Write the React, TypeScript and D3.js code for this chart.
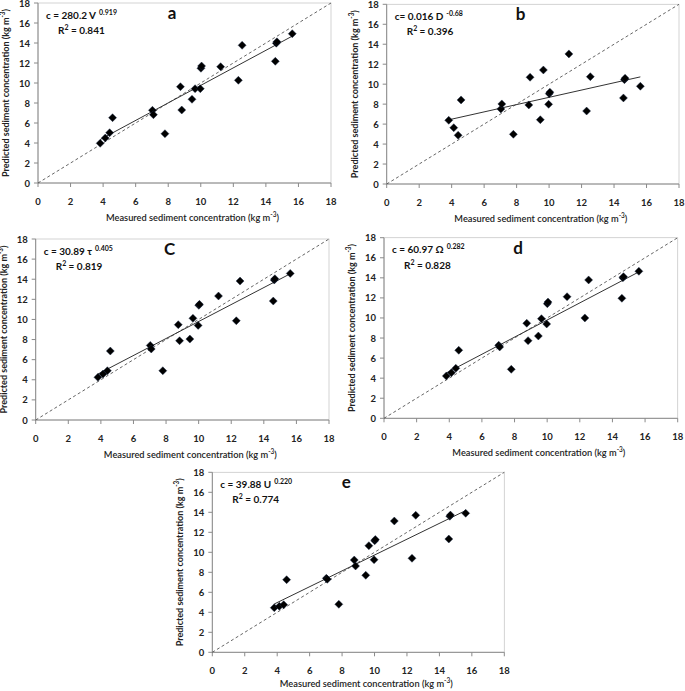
import React from "react";
import * as d3 from "d3";

// Measured sediment concentration (shared x values, kg m-3)
const MEASURED = [3.82, 4.13, 4.4, 4.58, 7.03, 7.09, 7.8, 8.75, 8.83, 9.46, 9.65, 9.97, 10.01, 10.05, 11.22, 12.31, 12.54, 14.58, 14.64, 14.68, 15.62];

// Predicted sediment concentration per model
const PRED_A = [3.97, 4.5, 5.03, 6.53, 7.27, 6.83, 4.93, 9.63, 7.3, 8.37, 9.43, 9.43, 11.47, 11.7, 11.63, 10.27, 13.77, 12.17, 13.98, 14.12, 14.93];
const PRED_B = [6.38, 5.64, 4.88, 8.42, 7.52, 8.02, 4.98, 7.92, 10.69, 6.44, 11.42, 7.98, 9.05, 9.2, 13.03, 7.31, 10.75, 8.62, 10.45, 10.6, 9.79];
const PRED_C = [4.24, 4.57, 4.9, 6.86, 7.42, 7.06, 4.9, 9.48, 7.88, 8.05, 10.11, 9.41, 11.4, 11.5, 12.33, 9.87, 13.82, 11.83, 13.92, 14.05, 14.58];
const PRED_D = [4.22, 4.55, 4.98, 6.78, 7.28, 7.11, 4.88, 9.47, 7.74, 8.2, 9.93, 9.4, 11.42, 11.58, 12.12, 10.0, 13.79, 11.96, 14.0, 14.12, 14.65];
const PRED_E = [4.46, 4.6, 4.76, 7.26, 7.4, 7.3, 4.8, 9.23, 8.63, 7.7, 10.66, 9.26, 11.15, 11.28, 13.13, 9.4, 13.7, 11.33, 13.6, 13.72, 13.9];

const TICKS = [0, 2, 4, 6, 8, 10, 12, 14, 16, 18];
const LETTERS = ["a", "b", "C", "d", "e"];
const EQ_LEFT = ["c = 280.2 V", "c= 0.016 D", "c = 30.89 \u03c4", "c = 60.97 \u03a9", "c = 39.88 U"];
const EQ_EXP = ["0.919", "-0.68", "0.405", "0.282", "0.220"];
const R2 = ["0.841", "0.396", "0.819", "0.828", "0.774"];

const FONT = "Lato, 'Open Sans', sans-serif";

type Geo = { x0: number; x1: number; yTop: number; yBot: number; titleDy: number };

function linearFit(xs: number[], ys: number[]) {
  const mx = d3.mean(xs)!;
  const my = d3.mean(ys)!;
  let num = 0, den = 0;
  xs.forEach((v, i) => { num += (v - mx) * (ys[i] - my); den += (v - mx) * (v - mx); });
  const b = num / den;
  const a = my - b * mx;
  return (x: number) => a + b * x;
}

function Panel({ g, ys, idx }: { g: Geo; ys: number[]; idx: number }) {
  const x = d3.scaleLinear().domain([0, 18]).range([g.x0, g.x1]);
  const y = d3.scaleLinear().domain([0, 18]).range([g.yBot, g.yTop]);
  const fit = linearFit(MEASURED, ys);
  const ext = d3.extent(MEASURED) as [number, number];
  const trend = d3.line<number>().x((v) => x(v)).y((v) => y(fit(v)))(ext)!;
  const diamond = d3.symbol().type(d3.symbolSquare).size(32)()!;
  const midX = (g.x0 + g.x1) / 2 + 8;
  const midY = (g.yTop + g.yBot) / 2;
  return (
    <g fontFamily={FONT}>
      <rect x={g.x0} y={g.yTop} width={g.x1 - g.x0} height={g.yBot - g.yTop} fill="none" stroke="#c8c8c8" strokeWidth={0.8} />
      <line x1={g.x0} x2={g.x1} y1={g.yBot} y2={g.yBot} stroke="#8a8a8a" strokeWidth={1} />
      <line x1={g.x0} x2={g.x0} y1={g.yTop} y2={g.yBot} stroke="#8a8a8a" strokeWidth={1} />
      {TICKS.map((t) => (
        <g key={"x" + t}>
          <line x1={x(t)} x2={x(t)} y1={g.yBot} y2={g.yBot + 4} stroke="#8a8a8a" />
          <text x={x(t)} y={g.yBot + 22} textAnchor="middle" fontSize={9.5} fontWeight={700} fill="#222">{t}</text>
        </g>
      ))}
      {TICKS.map((t) => (
        <g key={"y" + t}>
          <line x1={g.x0 - 4} x2={g.x0} y1={y(t)} y2={y(t)} stroke="#8a8a8a" />
          <text x={g.x0 - 8} y={y(t) + 3.5} textAnchor="end" fontSize={9.5} fontWeight={700} fill="#222">{t}</text>
        </g>
      ))}
      <line x1={x(0)} y1={y(0)} x2={x(18)} y2={y(18)} stroke="#555" strokeWidth={0.9} strokeDasharray="3,2.5" />
      <path d={trend} fill="none" stroke="#333" strokeWidth={1} />
      {MEASURED.map((m, i) => (
        <path key={i} d={diamond} transform={`translate(${x(m)},${y(ys[i])}) rotate(45)`} fill="#000" stroke="#1a2a4a" strokeWidth={0.4} />
      ))}
      <text x={g.x0 + 134} y={g.yTop + 16} textAnchor="middle" fontSize={17} fontWeight={700} fill="#111">{LETTERS[idx]}</text>
      <text x={g.x0 + 8} y={g.yTop + 15.5} fontSize={10} fontWeight={700} fill="#111">
        {EQ_LEFT[idx]}
        <tspan dx={3} dy={-4} fontSize={7}>{EQ_EXP[idx]}</tspan>
      </text>
      <text x={g.x0 + 20} y={g.yTop + 31} fontSize={10} fontWeight={700} fill="#111">
        R<tspan dy={-4} fontSize={7}>2</tspan><tspan dy={4}>{" = " + R2[idx]}</tspan>
      </text>
      <text x={midX} y={g.yBot + g.titleDy} textAnchor="middle" fontSize={10} fontWeight={600} fill="#222" textLength={173} lengthAdjust="spacingAndGlyphs">
        Measured sediment concentration (kg m<tspan dy={-4} fontSize={7}>-3</tspan><tspan dy={4}>)</tspan>
      </text>
      <text transform={`translate(${g.x0 - 29},${midY}) rotate(-90)`} textAnchor="middle" fontSize={10} fontWeight={700} fill="#222" textLength={168} lengthAdjust="spacingAndGlyphs">
        Predicted sediment concentration (kg m<tspan dy={-4} fontSize={7}>-3</tspan><tspan dy={4}>)</tspan>
      </text>
    </g>
  );
}

const GEOS: Geo[] = [
  { x0: 38, x1: 331, yTop: 3, yBot: 183, titleDy: 38 },
  { x0: 386.7, x1: 679, yTop: 4.3, yBot: 184, titleDy: 38 },
  { x0: 35.7, x1: 329, yTop: 239, yBot: 420, titleDy: 38 },
  { x0: 384, x1: 677.7, yTop: 237.7, yBot: 418.3, titleDy: 38 },
  { x0: 212.3, x1: 504.3, yTop: 472.3, yBot: 652.3, titleDy: 35 },
];

export default function App() {
  const series = [PRED_A, PRED_B, PRED_C, PRED_D, PRED_E];
  return (
    <svg width={685} height={691} style={{ position: "absolute", left: 0, top: 0, background: "#fff" }}>
      <rect width={685} height={691} fill="#fff" />
      {series.map((ys, i) => (
        <Panel key={i} g={GEOS[i]} ys={ys} idx={i} />
      ))}
    </svg>
  );
}
